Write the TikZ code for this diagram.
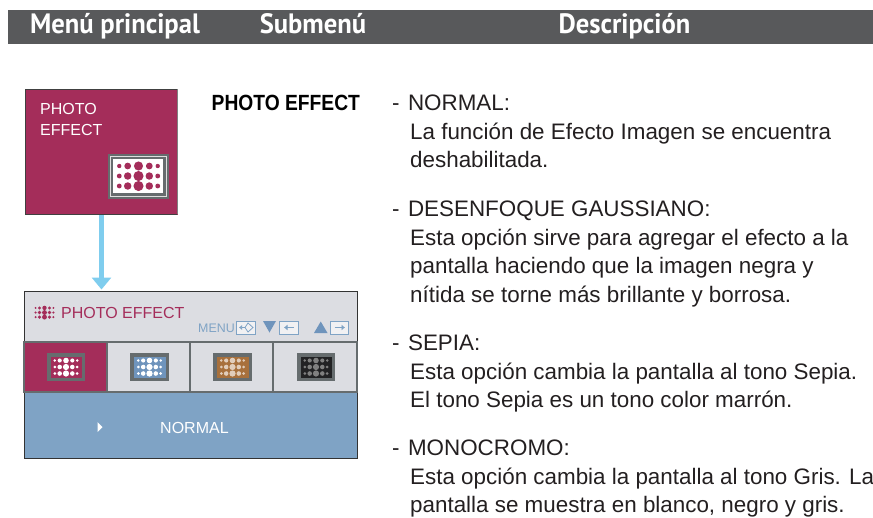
\documentclass[tikz,border=0pt]{standalone}
\usepackage{fontspec}
\setmainfont{Liberation Sans}
\newfontfamily\headfont{PT Sans}
\usetikzlibrary{arrows.meta}
\definecolor{crim}{HTML}{A42D5A}
\definecolor{hdr}{HTML}{58595B}
\definecolor{panel}{HTML}{DCDDE2}
\definecolor{steel}{HTML}{7FA3C5}
\definecolor{icobord}{HTML}{666C6E}
\definecolor{sky}{HTML}{7FCDEE}
\definecolor{blueic}{HTML}{6F94BC}
\definecolor{brownic}{HTML}{A8703C}
\definecolor{blackic}{HTML}{222224}
\definecolor{menublue}{HTML}{7FA3C5}
\definecolor{txt}{HTML}{231F20}
\tikzset{
  head/.style={font=\headfont\bfseries\fontsize{28}{28}\selectfont,text=white,anchor=base,inner sep=0pt,xscale=.95},
  bodytext/.style={font=\fontsize{22.4}{30.5}\selectfont,text=txt,anchor=north west,inner sep=0pt,align=left},
  osd/.style={font=\fontsize{16}{20.5}\selectfont,inner sep=0pt,anchor=base west},
  cell/.style={draw=icobord,line width=1.5pt,fill=panel},
  menukey/.style={draw=menublue,line width=.9pt,fill=white!60!panel},
}
% dot grid: centre x, centre y, x pitch, y pitch, base radius, colour
\newcommand{\dotgrid}[6]{%
  \foreach \i/\rf in {-1.78/.55,-1/.85,0/1.15,1/.85,1.78/.55}{
    \foreach \j/\rg in {-1/.9,0/1,1/1}{
      \fill[#6] ({#1+\i*#3},{#2+\j*#4}) circle ({#5*\rf*\rg});
    }
  }%
}
% small icon: x0,y0,x1,y1,fill,dots
\newcommand{\smallicon}[6]{%
  \fill[icobord] (#1,#2) rectangle (#3,#4);
  \fill[#5] ({#1+3.5},{#2+3.5}) rectangle ({#3-3.5},{#4-3.5});
  \dotgrid{(#1+#3)/2}{(#2+#4)/2}{6.3}{6.5}{2.7}{#6}
}
\begin{document}
\begin{tikzpicture}[x=1pt,y=-1pt]
\useasboundingbox (0,0) rectangle (873,517);
% header
\fill[hdr] (8,9.5) rectangle (873,43.5);
\node[head] (h1) at (115,33) {Menú principal};
\node[head] (h2) at (313,33) {Submenú};
\node[head] (h3) at (624.5,33) {Descripción};
% top red box
\draw[crim,fill=crim] (25,89) rectangle (177,214);
\draw[black!75,line width=.8pt] (25,214) -- (25,89) -- (177,89);
\draw[black!75,line width=.8pt] (25,214) -- (177,214);
\draw[gray,line width=.8pt] (177,89) -- (177,214);
\node[osd,text=white] (pe1) at (40,114) {PHOTO};
\node[osd,text=white] (pe2) at (40,135) {EFFECT};
\fill[icobord] (108,154) rectangle (169,199);
\draw[white!75!gray,line width=.7pt] (110.5,156.5) rectangle (166.5,196);
\fill[white] (113,159) rectangle (163,193);
\dotgrid{138.5}{176}{10.8}{10}{4.4}{crim}
% arrow
\coordinate (arrowstart) at (101.5,215);
\coordinate (arrowtip) at (101.5,289.5);
\draw[sky,line width=5pt,-{Triangle[length=12pt,width=19pt,fill=sky]}] (arrowstart) -- (arrowtip);
% lower panel
\fill[panel] (24,291) rectangle (357,342);
\fill[steel] (24,342) rectangle (357,458);
\draw[black!80,line width=.8pt] (24,342) -- (24,291) -- (357,291) -- (357,342);
\draw[black!80,line width=.8pt] (24,392) -- (24,458) -- (357,458) -- (357,392);
\draw[cell,fill=crim] (24,342) rectangle (107,392);
\draw[cell] (107,342) rectangle (190,392);
\draw[cell] (190,342) rectangle (273,392);
\draw[cell] (273,342) rectangle (357,392);
\smallicon{47}{353}{85}{381}{crim}{white}
\smallicon{130}{353}{169}{381}{blueic}{white}
\smallicon{213}{353}{252}{381}{brownic}{white!65!brownic}
\smallicon{297}{353}{335}{381}{blackic}{gray}
% title
\dotgrid{44.5}{312.5}{5}{4.6}{2.1}{crim}
\node[osd,text=crim] (pt) at (61,318) {PHOTO EFFECT};
% menu keys
\node[font=\fontsize{12.4}{12.4}\selectfont,text=menublue,anchor=base west,inner sep=0pt] (menu) at (198,332) {MENU};
\draw[menukey] (236.5,321) rectangle (255.5,334);
\draw[menublue,line width=1pt,-{Latex[length=3pt,width=5pt]}] (245,327.5) -- (239,327.5);
\draw[menublue,line width=.8pt] (248,323) -- (253,327.5) -- (248,332) -- (245,327.5) -- cycle;
\fill[blueic] (263,321) -- (276,321) -- (269.5,332.5) -- cycle;
\draw[menukey] (279.5,321) rectangle (298,334);
\draw[menublue,line width=1.2pt,-{Latex[length=3.5pt,width=6pt]}] (294,327.5) -- (284,327.5);
\fill[blueic] (314,333) -- (327.5,333) -- (320.75,321.5) -- cycle;
\draw[menukey] (330.5,321) rectangle (348.5,334);
\draw[menublue,line width=1.2pt,-{Latex[length=3.5pt,width=6pt]}] (334.5,327.5) -- (345,327.5);
% value row
\fill[white] (97.5,422) -- (102.5,427) -- (97.5,432) -- cycle;
\node[osd,text=white] (normal) at (160,433) {NORMAL};
% submenu label
\node[font=\bfseries\fontsize{22}{22}\selectfont,text=black,anchor=base west,inner sep=0pt,xscale=.875] (sub) at (211.5,110) {PHOTO EFFECT};
% descriptions
\node[bodytext] (d1) at (392,95) {-\hspace{8.4pt}NORMAL:\\[-2pt]\hspace*{18pt}La función de Efecto Imagen se encuentra\\[-2pt]\hspace*{18pt}deshabilitada.};
\node[bodytext] (d2) at (392,201) {-\hspace{8.4pt}DESENFOQUE GAUSSIANO:\\[-2pt]\hspace*{18pt}Esta opción sirve para agregar el efecto a la\\[-2pt]\hspace*{18pt}pantalla haciendo que la imagen negra y\\[-2pt]\hspace*{18pt}nítida se torne más brillante y borrosa.};
\node[bodytext] (d3) at (392,335) {-\hspace{8.4pt}SEPIA:\\[-2pt]\hspace*{18pt}Esta opción cambia la pantalla al tono Sepia.\\[-2pt]\hspace*{18pt}El tono Sepia es un tono color marrón.};
\node[bodytext] (d4) at (392,440) {-\hspace{8.4pt}MONOCROMO:\\[-2pt]\hspace*{18pt}Esta opción cambia la pantalla al tono Gris. La\\[-2pt]\hspace*{18pt}pantalla se muestra en blanco, negro y gris.};
\end{tikzpicture}
\end{document}
